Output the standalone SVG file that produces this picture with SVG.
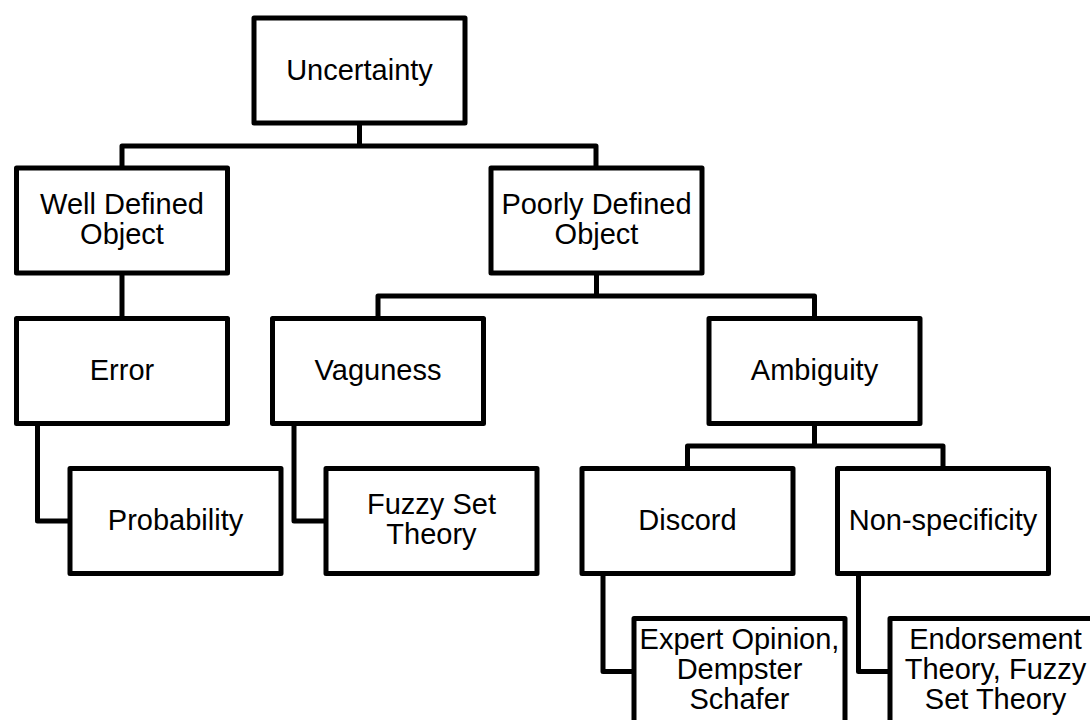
<svg xmlns="http://www.w3.org/2000/svg" width="1090" height="720" viewBox="0 0 1090 720">
  <style>
    .box { fill: #ffffff; stroke: #000000; stroke-width: 5; stroke-linejoin: round; }
    .wire { fill: none; stroke: #000000; stroke-width: 5; stroke-linejoin: round; }
    .label { font-family: "Liberation Sans", Arial, sans-serif; font-size: 29px; fill: #000000; text-anchor: middle; }
  </style>
  <rect width="1090" height="720" fill="#ffffff"/>

  <!-- tree connectors -->
  <g id="connectors">
    <path class="wire" d="M359.5,123 V146 M122,168 V146 H596 V168"/>
    <path class="wire" d="M122,273 V318.5"/>
    <path class="wire" d="M596.5,273.5 V296 M378,318.5 V296 H814.5 V318.5"/>
    <path class="wire" d="M814.5,423.5 V446 M687.5,468.5 V446 H943 V468.5"/>
    <path class="wire" d="M37.5,423.5 V521 H70"/>
    <path class="wire" d="M294,423.5 V521 H326"/>
    <path class="wire" d="M603,573.5 V671.5 H634"/>
    <path class="wire" d="M858.5,573.5 V671.5 H890"/>
  </g>

  <g id="uncertainty">
    <rect class="box" x="254" y="18" width="211" height="105"/>
    <text class="label" x="359.5" y="80">Uncertainty</text>
  </g>

  <g id="well-defined-object">
    <rect class="box" x="16.5" y="168" width="211" height="105"/>
    <text class="label" x="122" y="214">Well Defined</text>
    <text class="label" x="122" y="244">Object</text>
  </g>

  <g id="poorly-defined-object">
    <rect class="box" x="491" y="168" width="211" height="105"/>
    <text class="label" x="596.5" y="214">Poorly Defined</text>
    <text class="label" x="596.5" y="244">Object</text>
  </g>

  <g id="error">
    <rect class="box" x="16.5" y="318.5" width="211" height="105"/>
    <text class="label" x="122" y="379.5">Error</text>
  </g>

  <g id="vaguness">
    <rect class="box" x="272.5" y="318.5" width="211" height="105"/>
    <text class="label" x="378" y="379.5">Vaguness</text>
  </g>

  <g id="ambiguity">
    <rect class="box" x="709" y="318.5" width="211" height="105"/>
    <text class="label" x="814.5" y="379.5">Ambiguity</text>
  </g>

  <g id="probability">
    <rect class="box" x="70" y="468.5" width="211" height="105"/>
    <text class="label" x="175.5" y="529.5">Probability</text>
  </g>

  <g id="fuzzy-set-theory">
    <rect class="box" x="326" y="468.5" width="211" height="105"/>
    <text class="label" x="431.5" y="514">Fuzzy Set</text>
    <text class="label" x="431.5" y="544">Theory</text>
  </g>

  <g id="discord">
    <rect class="box" x="582" y="468.5" width="211" height="105"/>
    <text class="label" x="687.5" y="529.5">Discord</text>
  </g>

  <g id="non-specificity">
    <rect class="box" x="837.5" y="468.5" width="211" height="105"/>
    <text class="label" x="943" y="529.5">Non-specificity</text>
  </g>

  <g id="expert-opinion">
    <rect class="box" x="634" y="618.5" width="211" height="105"/>
    <text class="label" x="739.5" y="648.5">Expert Opinion,</text>
    <text class="label" x="739.5" y="678.5">Dempster</text>
    <text class="label" x="739.5" y="708.5">Schafer</text>
  </g>

  <g id="endorsement-theory">
    <rect class="box" x="890" y="618.5" width="211" height="105"/>
    <text class="label" x="995.5" y="648.5">Endorsement</text>
    <text class="label" x="995.5" y="678.5">Theory, Fuzzy</text>
    <text class="label" x="995.5" y="708.5">Set Theory</text>
  </g>
</svg>
